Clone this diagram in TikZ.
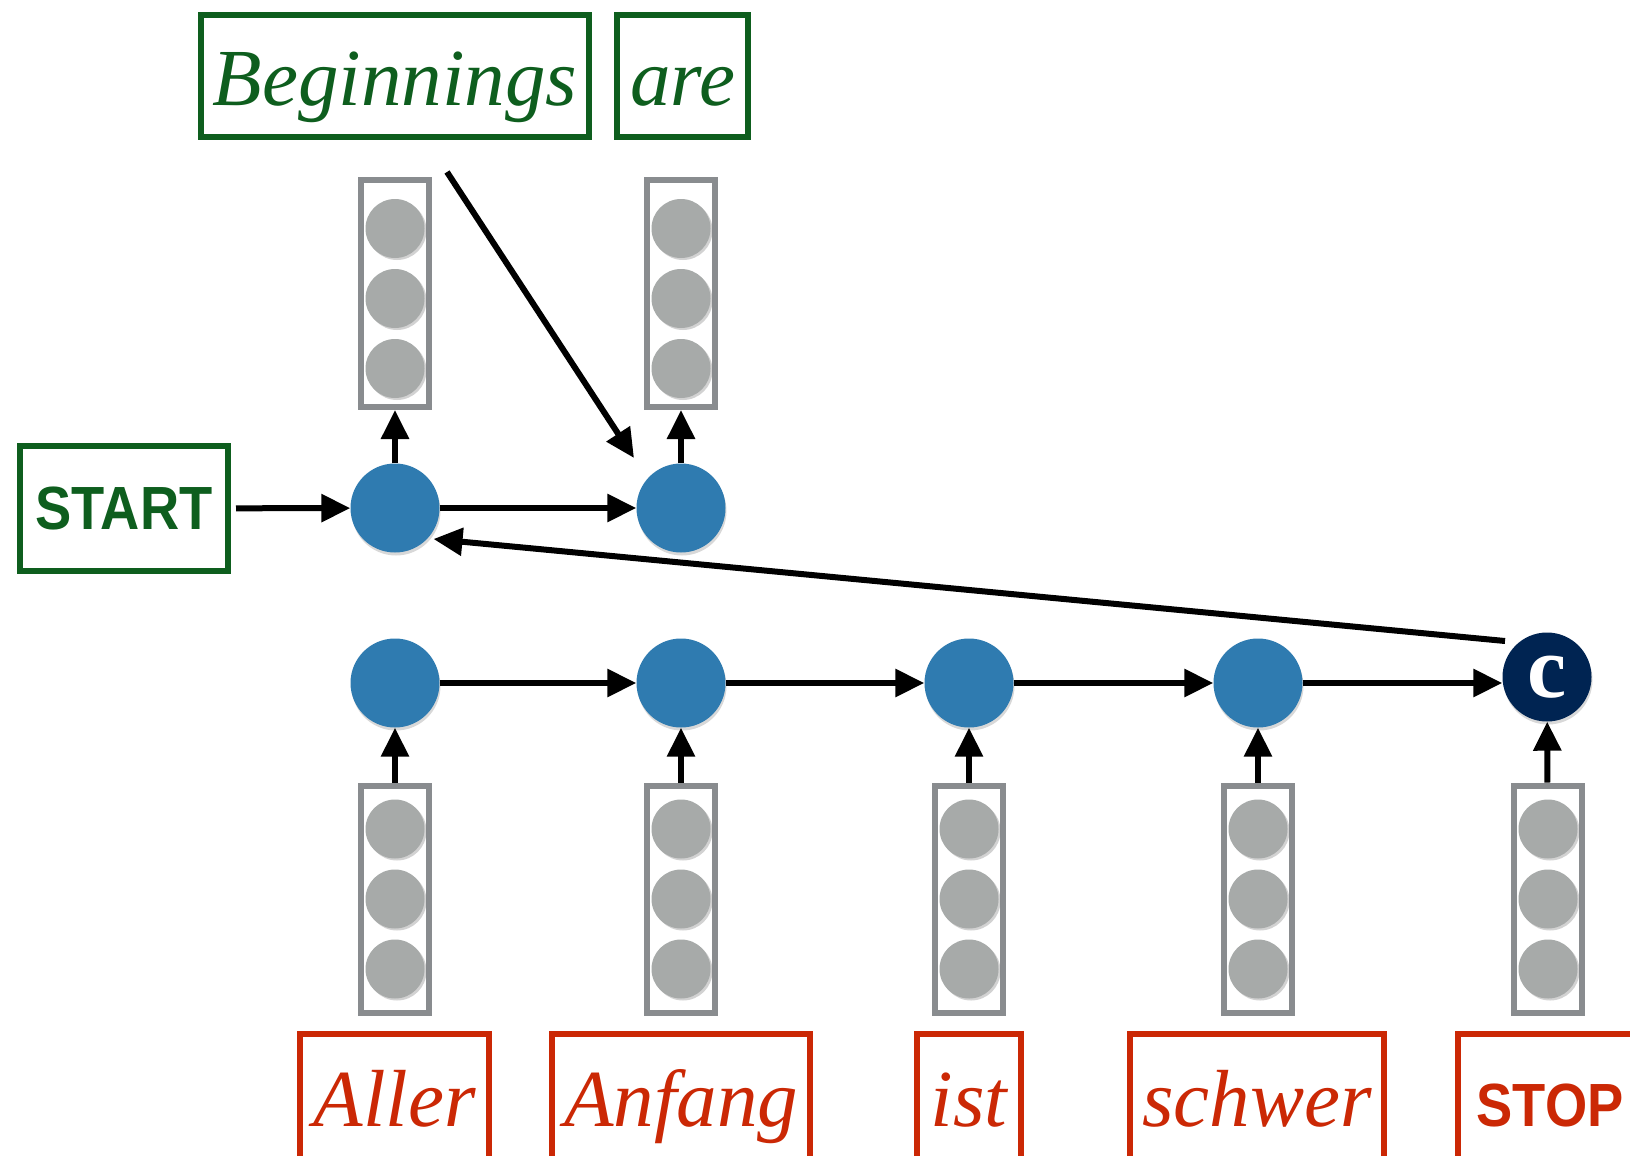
\documentclass[tikz,border=0pt]{standalone}
\usepackage{fontspec}
\setmainfont{Liberation Serif}
\setsansfont{Liberation Sans}
\usetikzlibrary{arrows.meta,shadows}
\definecolor{grn}{RGB}{14,94,30}
\definecolor{rd}{RGB}{203,40,5}
\definecolor{blu}{RGB}{47,123,176}
\definecolor{nvy}{RGB}{0,36,82}
\definecolor{gcirc}{RGB}{167,170,169}
\definecolor{gbox}{RGB}{137,140,143}
\tikzset{
  wordbox/.style={draw, line width=6pt, inner xsep=0pt, inner ysep=0pt, anchor=base,
    font=\fontsize{81}{90}\selectfont\itshape},
  greenbox/.style={wordbox, draw=grn, text=grn},
  redbox/.style={wordbox, draw=rd, text=rd},
  greentag/.style={greenbox, font=\fontsize{61}{64}\selectfont\sffamily\bfseries},
  redtag/.style={redbox, font=\fontsize{61}{64}\selectfont\sffamily\bfseries},
  rnn/.style={circle, fill=blu, minimum size=89pt, inner sep=0pt,
    drop shadow={shadow xshift=1pt, shadow yshift=-3pt, opacity=0.3}},
  ctx/.style={circle, fill=nvy, minimum size=89pt, inner sep=0pt, text=white,
    font=\fontsize{88}{88}\selectfont\bfseries,
    drop shadow={shadow xshift=1pt, shadow yshift=-3pt, opacity=0.3}},
  vec/.style={draw=gbox, line width=6pt, fill=white, minimum width=68pt,
    minimum height=227pt, inner sep=0pt},
  unit/.style={circle, fill=gcirc, minimum size=59pt, inner sep=0pt,
    drop shadow={shadow xshift=2pt, shadow yshift=-2pt, opacity=0.35}},
  arr/.style={line width=6pt, -{Triangle[length=29pt,width=27pt]}}
}
\begin{document}
\begin{tikzpicture}[x=1pt,y=-1pt]
\fill[white] (0,0) rectangle (1630,1156);
\useasboundingbox (0,0) rectangle (1630,1156);

% top words
\node[greenbox, text height=90pt, text depth=32pt, minimum width=388pt] (beg) at (395,105) {Beginnings};
\node[greenbox, text height=90pt, text depth=32pt, minimum width=131pt] (are) at (682.5,105) {are};

% START
\node[greentag, text height=83pt, text depth=42pt, minimum width=208pt] (start) at (124,529) {\scalebox{0.89}[1]{START}};

% upper output vectors
\foreach \i/\x in {1/395, 2/681} {
  \node[vec] (vu\i) at (\x,293.5) {};
  \node[unit] (vu\i a) at (\x,228.5) {};
  \node[unit] (vu\i b) at (\x,298.5) {};
  \node[unit] (vu\i c) at (\x,368.5) {};
}

% decoder nodes
\node[rnn] (d1) at (395,508) {};
\node[rnn] (d2) at (681,508) {};

% encoder nodes
\node[rnn] (e1) at (395,683) {};
\node[rnn] (e2) at (681,683) {};
\node[rnn] (e3) at (969,683) {};
\node[rnn] (e4) at (1258,683) {};
\node[ctx] (c) at (1547,677) {c};

% lower input vectors
\foreach \i/\x in {1/395, 2/681, 3/969, 4/1258, 5/1548} {
  \node[vec] (vl\i) at (\x,899) {};
  \node[unit] (vl\i a) at (\x,829) {};
  \node[unit] (vl\i b) at (\x,899) {};
  \node[unit] (vl\i c) at (\x,969) {};
}

% source words
\node[redbox, text height=92pt, text depth=60pt, minimum width=189pt] (w1) at (394.5,1126) {Aller};
\node[redbox, text height=92pt, text depth=60pt, minimum width=258pt] (w2) at (681,1126) {Anfang};
\node[redbox, text height=92pt, text depth=60pt, minimum width=104pt] (w3) at (969,1126) {ist};
\node[redbox, text height=92pt, text depth=60pt, minimum width=254pt] (w4) at (1257,1126) {schwer};
\node[redtag, text height=92pt, text depth=60pt, minimum width=185pt] (w5) at (1550,1126) {\scalebox{0.89}[1]{STOP}};

% connectors
\draw[arr, shorten <=5pt] (start) -- (d1);
\draw[arr] (d1) -- (d2);
\draw[arr] (d1) -- (vu1);
\draw[arr] (d2) -- (vu2);
\draw[arr] ([shift={(52,32)}]beg.south) -- ([shift={(-47,-50)}]d2.center);

\draw[arr] (vl1) -- (e1);
\draw[arr] (vl2) -- (e2);
\draw[arr] (vl3) -- (e3);
\draw[arr] (vl4) -- (e4);
\draw[arr] (vl5) -- (c);

\draw[arr] (e1) -- (e2);
\draw[arr] (e2) -- (e3);
\draw[arr] (e3) -- (e4);
\draw[arr] (e4) -- (e4 -| c.west);

\draw[arr] ([shift={(-42,-36)}]c.center) -- ([shift={(38.5,31)}]d1.center);
\end{tikzpicture}
\end{document}
